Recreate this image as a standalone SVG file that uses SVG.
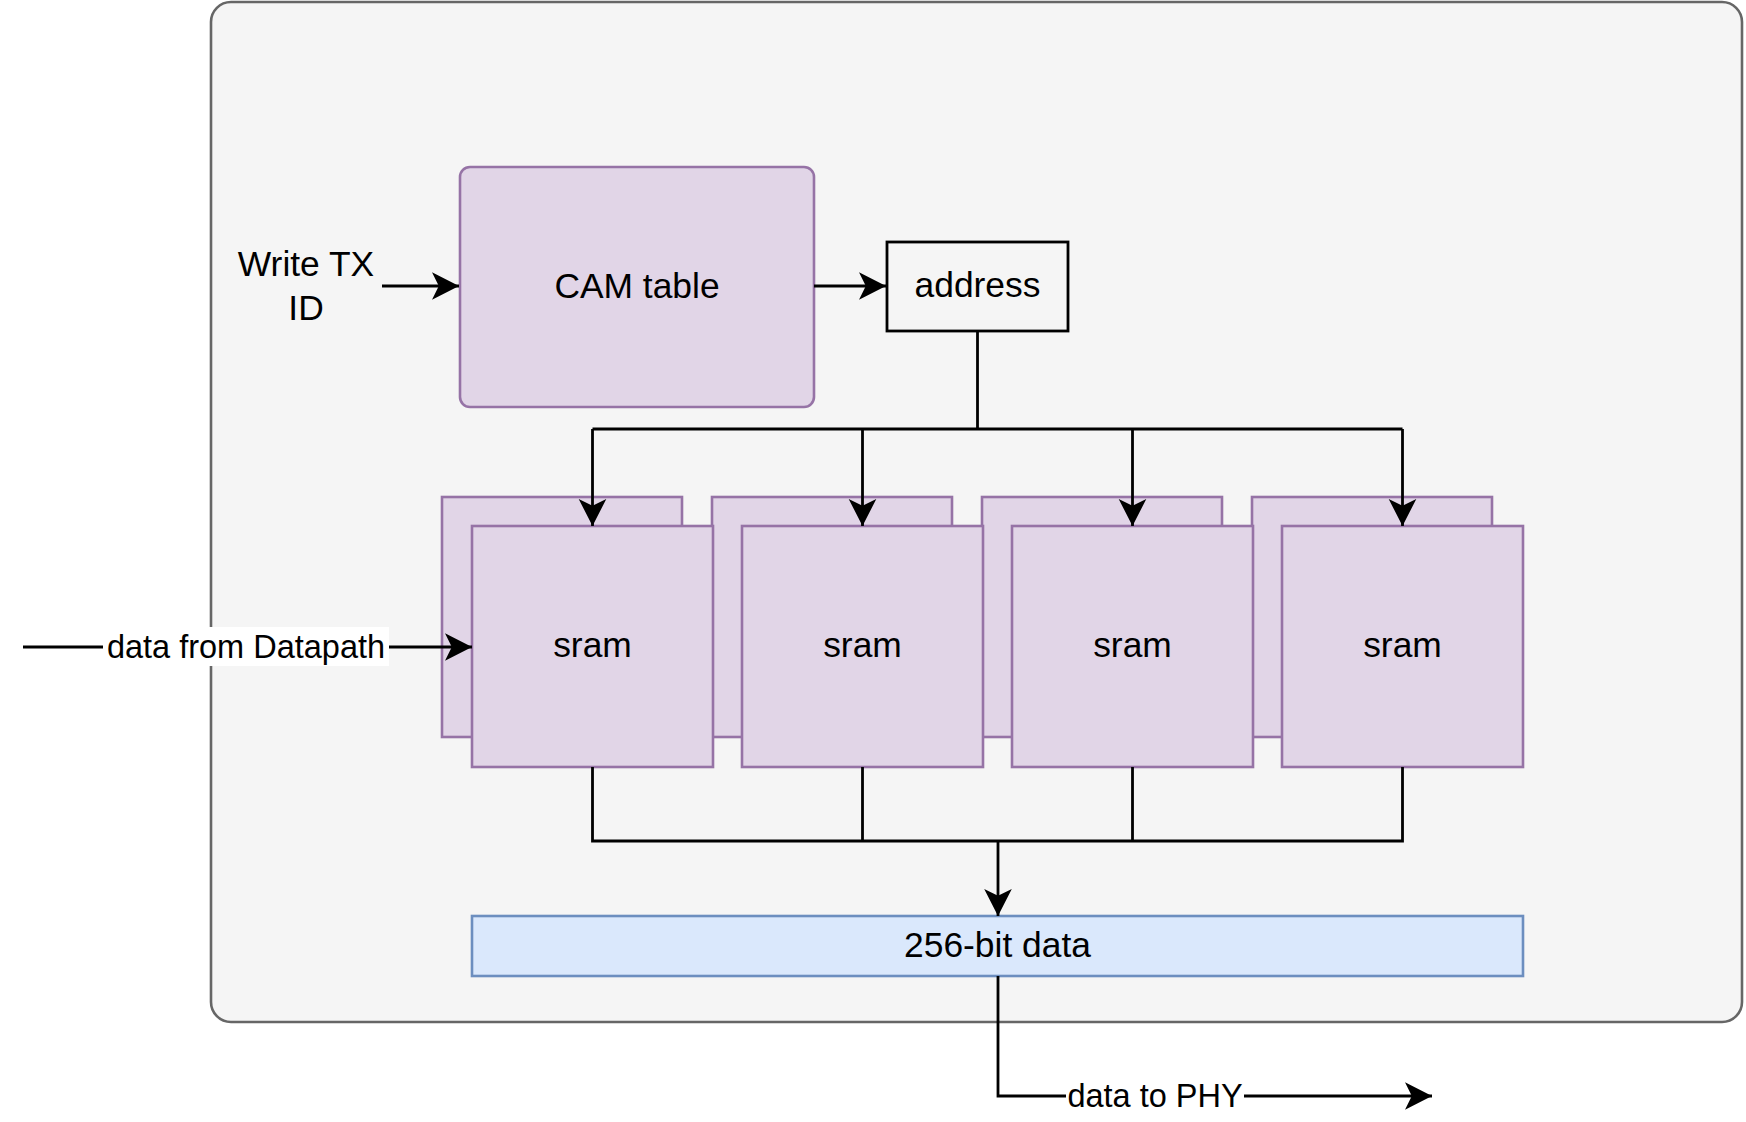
<svg xmlns="http://www.w3.org/2000/svg" width="1746" height="1122" viewBox="0 0 1746 1122">
<style>
.t{font-family:"Liberation Sans",Arial,Helvetica,sans-serif;font-size:35.4px;fill:#000;text-anchor:middle}
.e{font-family:"Liberation Sans",Arial,Helvetica,sans-serif;font-size:32.5px;fill:#000;text-anchor:middle}
.p{fill:#e1d5e7;stroke:#9673a6;stroke-width:2.6}
.w{fill:none;stroke:#000;stroke-width:2.8}
</style>
<defs>
<marker id="arr" markerUnits="userSpaceOnUse" markerWidth="30" markerHeight="30" viewBox="0 0 30 30" refX="28" refY="15" orient="auto">
<path d="M28,15 L1,1.2 L7.8,15 L1,28.8 Z" fill="#000"/>
</marker>
</defs>
<rect width="1746" height="1122" fill="#ffffff"/>
<g id="container">
<rect x="211" y="2" width="1531" height="1020" rx="20" ry="20" fill="#f5f5f5" stroke="#666666" stroke-width="2.6"/>
</g>
<g id="cam">
<rect x="460" y="167" width="354" height="240" rx="10" ry="10" class="p"/>
<text class="t" x="637" y="297.5">CAM table</text>
</g>
<g id="address">
<rect x="887" y="242" width="181" height="89" fill="none" stroke="#000" stroke-width="2.8"/>
<text class="t" x="977.5" y="297">address</text>
</g>
<g id="sram1-back"><rect x="442" y="497" width="240" height="240" class="p"/></g>
<g id="sram2-back"><rect x="712" y="497" width="240" height="240" class="p"/></g>
<g id="sram3-back"><rect x="982" y="497" width="240" height="240" class="p"/></g>
<g id="sram4-back"><rect x="1252" y="497" width="240" height="240" class="p"/></g>
<g id="sram1"><rect x="472" y="526" width="241" height="241" class="p"/><text class="t" x="592.5" y="657">sram</text></g>
<g id="sram2"><rect x="742" y="526" width="241" height="241" class="p"/><text class="t" x="862.5" y="657">sram</text></g>
<g id="sram3"><rect x="1012" y="526" width="241" height="241" class="p"/><text class="t" x="1132.5" y="657">sram</text></g>
<g id="sram4"><rect x="1282" y="526" width="241" height="241" class="p"/><text class="t" x="1402.5" y="657">sram</text></g>
<g id="data256">
<rect x="472" y="916" width="1051" height="60" fill="#dae8fc" stroke="#6c8ebf" stroke-width="2.6"/>
<text class="t" x="997.5" y="956.5">256-bit data</text>
</g>
<g id="write-tx-label">
<text class="t" x="306" y="275.5">Write TX</text>
<text class="t" x="306" y="319.5">ID</text>
</g>
<g id="connectors">
<path class="w" d="M382,286 H459" marker-end="url(#arr)"/>
<path class="w" d="M814,286 H886" marker-end="url(#arr)"/>
<path class="w" d="M977.5,331 V429"/>
<path class="w" d="M592.5,429 H1402.5"/>
<path class="w" d="M592.5,429 V526" marker-end="url(#arr)"/>
<path class="w" d="M862.5,429 V526" marker-end="url(#arr)"/>
<path class="w" d="M1132.5,429 V526" marker-end="url(#arr)"/>
<path class="w" d="M1402.5,429 V526" marker-end="url(#arr)"/>
<path class="w" d="M592.5,767 V841 H1402.5 V767"/>
<path class="w" d="M862.5,767 V841"/>
<path class="w" d="M1132.5,767 V841"/>
<path class="w" d="M998,841 V916" marker-end="url(#arr)"/>
<path class="w" d="M23,647 H472" marker-end="url(#arr)"/>
<rect x="103" y="627" width="286" height="39" fill="#ffffff"/>
<text class="e" x="246" y="658">data from Datapath</text>
<path class="w" d="M998,976 V1096 H1432" marker-end="url(#arr)"/>
<rect x="1066" y="1077" width="178" height="37" fill="#ffffff"/>
<text class="e" x="1155" y="1107">data to PHY</text>
</g>
</svg>
